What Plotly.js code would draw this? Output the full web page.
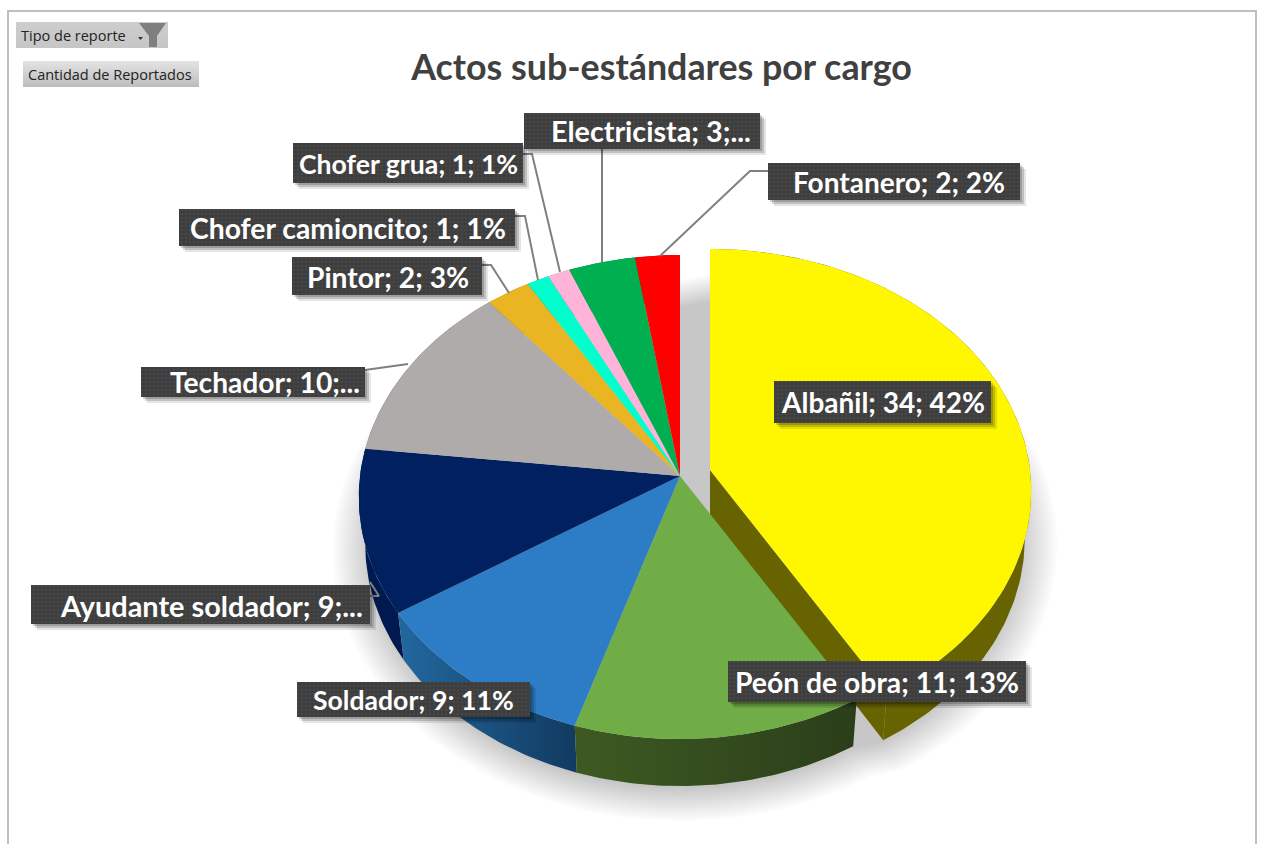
<!DOCTYPE html>
<html>
<head>
<meta charset="utf-8">
<script src="https://cdn.plot.ly/plotly-3.0.1.min.js"></script>
<style>html,body{margin:0;padding:0;background:#fff;overflow:hidden}#chart{width:1261px;height:844px}</style>
</head>
<body>
<div id="chart"></div>
<script>
// ---------- data ----------
const categories = ['Albañil','Peón de obra','Soldador','Ayudante soldador','Techador','Pintor','Chofer camioncito','Chofer grua','Electricista','Fontanero'];
const values     = [34, 11, 9, 9, 10, 2, 1, 1, 3, 2];
const labelTexts = ['Albañil; 34; 42%','Peón de obra; 11; 13%','Soldador; 9; 11%','Ayudante soldador; 9;...','Techador; 10;...','Pintor; 2; 3%','Chofer camioncito; 1; 1%','Chofer grua; 1; 1%','Electricista; 3;...','Fontanero; 2; 2%'];
const topColors  = ['#FFF700','#70AD47','#2C7DC6','#002060','#AFABAB','#E9B522','#00FFCC','#FFB3D9','#00B050','#FF0000'];
const sideFrom   = ['#666300','#3E5A22','#22689F','#001A50','#6b6868','#8f6f14','#009a7a','#a06f88','#006b30','#990000'];
const sideTo     = ['#666300','#2A3E1A','#123A60','#001A50','#6b6868','#8f6f14','#009a7a','#a06f88','#006b30','#990000'];
const titleText  = 'Actos sub-estándares por cargo';
const filterText = 'Tipo de reporte';
const measureText = 'Cantidad de Reportados';

// ---------- label layout, page pixels ----------
const labelBoxes = [
  [774,381,991,423],[728,661,1026,702],[297,682,530,717],[31,585,370,624],[141,367,365,397],
  [292,257,482,295],[179,209,515,246],[293,143,523,183],[524,113,760,149],[768,163,1020,200]
];
const labelCenters = [[882.5,402],[877,682],[413,700],[211,605.5],[265,382],[387.5,276.5],[347.5,227.5],[408.5,163.5],[651,131],[899,181.5]];
const labelSizes = [28,28.3,26.6,28.9,28.2,28.2,28.3,26.6,28.7,28];
const leaders = [
  [[768,171],[750,171],[660,256]],
  [[602,149],[602,262]],
  [[523,154],[532,154],[560,272]],
  [[515,216],[525,216],[538,280]],
  [[482,265],[491,265],[509,293]],
  [[365,370],[408,364]],
  [[370,582],[379,596],[370,596]]
];

// ---------- pie geometry ----------
const cx = 680, cy = 476, Rx = 320, Ry = 240.2, persp = 0.0869;
const depth = 47, depthScale = 0.98;
const pullX = 30, pullY = -6;
const total = values.reduce((a,b)=>a+b,0);

function proj(t){ // t radians clockwise from top
  const w = 1 + persp*Math.cos(t);
  return [Rx*Math.sin(t)/w, Ry*Math.cos(t)/w];
}
function arcAngles(a,b){
  const n = Math.max(2, Math.ceil(Math.abs(b-a)/(Math.PI/180)));
  const r = [];
  for(let i=0;i<=n;i++) r.push(a+(b-a)*i/n);
  return r;
}
const sliceAngles = [];
let acc = 0;
values.forEach(v=>{ const a=acc/total*2*Math.PI; acc+=v; sliceAngles.push([a,acc/total*2*Math.PI]); });

const traces = [];
function poly(pts,color,name,extra){
  traces.push(Object.assign({
    type:'scatter',mode:'lines',x:pts.map(p=>p[0]),y:pts.map(p=>p[1]),
    fill:'toself',fillcolor:color,line:{width:0,color:color},
    hoverinfo:name?'text':'skip',text:name||undefined,hoveron:'fills',showlegend:false
  },extra||{}));
}
function rectPts(x0,y0,x1,y1){ return [[x0,y0],[x1,y0],[x1,y1],[x0,y1],[x0,y0]]; }

// soft shadow: stack of translucent outlines
const shadowLayers = 14;
const sA = sliceAngles[0][1];
for(let k=0;k<shadowLayers;k++){
  const f = 0.91 + 0.11*k/(shadowLayers-1);
  const sx = 1.06*f, sy = 1.095*f, dy = 51;
  const pts = [];
  arcAngles(0,sA).forEach(t=>{const p=proj(t);pts.push([cx+pullX+p[0]*sx,cy+dy+pullY-p[1]*sy]);});
  arcAngles(sA,2*Math.PI).forEach(t=>{const p=proj(t);pts.push([cx+p[0]*sx,cy+dy-p[1]*sy]);});
  pts.push(pts[0]);
  poly(pts,'rgba(0,0,0,0.0165)');
}

function sidePts(i,ox,oy){
  const [a,b] = sliceAngles[i];
  const ang = arcAngles(a,b), pts=[];
  ang.forEach(t=>{const p=proj(t);pts.push([cx+ox+p[0],cy+oy-p[1]]);});
  ang.slice().reverse().forEach(t=>{const p=proj(t);pts.push([cx+ox+p[0]*depthScale,cy+oy-p[1]+depth]);});
  pts.push(pts[0]);
  return pts;
}
function topPts(i,ox,oy){
  const [a,b] = sliceAngles[i];
  const pts=[[cx+ox,cy+oy]];
  arcAngles(a,b).forEach(t=>{const p=proj(t);pts.push([cx+ox+p[0],cy+oy-p[1]]);});
  pts.push([cx+ox,cy+oy]);
  return pts;
}
function drawSide(i,ox,oy){
  const pts = sidePts(i,ox,oy);
  const xs = pts.map(p=>p[0]);
  poly(pts,sideFrom[i],null,{fillgradient:{type:'horizontal',colorscale:[[0,sideFrom[i]],[1,sideTo[i]]],
    start:Math.min(...xs),stop:Math.max(...xs)}});
}

// pulled slice first: its side, cut wall and top
drawSide(0,pullX,pullY);
const endP = proj(sliceAngles[0][1]);
poly([[cx+pullX,cy+pullY],[cx+pullX+endP[0],cy+pullY-endP[1]],
      [cx+pullX+endP[0]*depthScale,cy+pullY-endP[1]+depth],[cx+pullX,cy+pullY+depth],[cx+pullX,cy+pullY]],sideFrom[0]);
poly(topPts(0,pullX,pullY),topColors[0],categories[0]+': '+values[0]);

// remaining slices
for(let i=values.length-1;i>=1;i--) drawSide(i,0,0);
for(let i=1;i<values.length;i++) poly(topPts(i,0,0),topColors[i],categories[i]+': '+values[i]);

// leader lines
leaders.forEach(l=>traces.push({type:'scatter',mode:'lines',x:l.map(p=>p[0]),y:l.map(p=>p[1]),
  line:{color:'#808080',width:2},hoverinfo:'skip',showlegend:false}));

// button backgrounds with gradients
function button(x0,y0,x1,y1,c0,c1){
  poly(rectPts(x0,y0,x1,y1),c0,null,{fillgradient:{type:'vertical',colorscale:[[0,c0],[1,c1]],start:y0,stop:y1}});
}
button(16,22,168,48,'#CDCDCD','#C6C6C6');
button(23,61,199,87,'#E4E4E4','#BDBDBD');

// label shadows, then dotted label boxes
labelBoxes.forEach(b=>{
  [[6,0.10],[4,0.16],[2,0.18]].forEach(s=>poly(rectPts(b[0]+s[0],b[1]+s[0],b[2]+s[0],b[3]+s[0]),'rgba(0,0,0,'+s[1]+')'));
});
labelBoxes.forEach(b=>{
  poly(rectPts(b[0],b[1],b[2],b[3]),'#3D3D3D',null,{fillpattern:{shape:'.',bgcolor:'#3D3D3D',fgcolor:'#474747',size:4,solidity:0.35,fillmode:'replace'}});
});

// ---------- shapes ----------
const shapes = [];
shapes.push({type:'path',path:'M8,844 L8,11 L1256,11 L1256,844',xref:'x',yref:'y',line:{color:'#BFBFBF',width:2},layer:'below'});
shapes.push({type:'path',path:'M139,23 L166,23 L157,36 L157,47 L149,47 L149,36 Z',xref:'x',yref:'y',fillcolor:'#7F7F7F',line:{width:0}});
shapes.push({type:'path',path:'M138,37 L143,37 L140.5,40 Z',xref:'x',yref:'y',fillcolor:'#333333',line:{width:0}});

// ---------- annotations ----------
const annotations = labelTexts.map((t,i)=>({
  xref:'x',yref:'y',x:labelCenters[i][0],y:labelCenters[i][1],text:t,showarrow:false,
  font:{family:'Lato, "Open Sans", sans-serif',size:labelSizes[i],color:'#FFFFFF',weight:700},
  xanchor:'center',yanchor:'middle'
}));
const uiFont = {family:'"Open Sans", sans-serif',size:14.5,color:'#222222'};
annotations.push({xref:'x',yref:'y',x:19,y:35.5,text:filterText,showarrow:false,font:uiFont,xanchor:'left',yanchor:'middle'});
annotations.push({xref:'x',yref:'y',x:26,y:74,text:measureText,showarrow:false,font:uiFont,xanchor:'left',yanchor:'middle'});

const layout = {
  width:1261,height:844,margin:{l:0,r:0,t:0,b:0},
  paper_bgcolor:'#FFFFFF',plot_bgcolor:'#FFFFFF',showlegend:false,
  title:{text:titleText,x:661.5/1261,xanchor:'center',y:1-67/844,yanchor:'middle',
    font:{family:'Lato, "Open Sans", sans-serif',size:35.8,color:'#404040',weight:700}},
  xaxis:{range:[0,1261],visible:false,fixedrange:true},
  yaxis:{range:[844,0],visible:false,fixedrange:true},
  shapes:shapes,annotations:annotations
};
Plotly.newPlot('chart',traces,layout,{displayModeBar:false,responsive:false});
</script>
</body>
</html>
